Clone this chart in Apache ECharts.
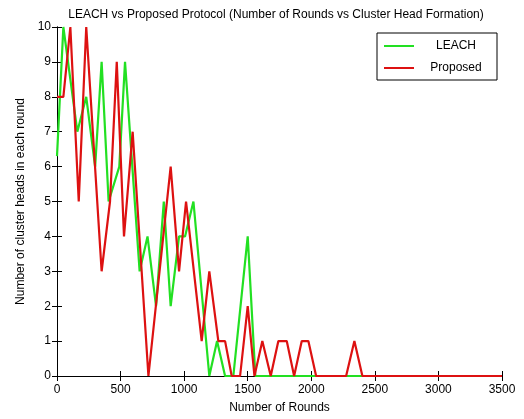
<!DOCTYPE html>
<html>
<head>
<meta charset="utf-8">
<script src="https://cdn.jsdelivr.net/npm/echarts@6/dist/echarts.min.js"></script>
<style>html,body{margin:0;padding:0;background:#fff;}#c{width:524px;height:419px;}</style>
</head>
<body>
<div id="c"></div>
<script>
var leachRounds = [0,50,160,230,300,351,406,490,535,650,712,779,840,894,960,1007,1073,1198,1259,1322,1387,1500,1560,3500];
var leachHeads  = [6.3,10,7,8,6,9,5,6,9,3,4,2,5,2,4,4,5,0,1,0,0,4,0,0];
var propRounds = [0,50,105,171,230,351,417,470,527,595,719,894,960,1015,1138,1198,1269,1322,1374,1440,1500,1553,1615,1681,1741,1807,1865,1925,1977,2038,2274,2339,2402,3500];
var propHeads  = [8,8,10,5,10,3,5,9,4,7,0,6,3,5,1,3,1,1,0,0,2,0,1,0,1,1,0,1,1,0,0,1,0,0];
var xTicks = [0,500,1000,1500,2000,2500,3000,3500];
var yTicks = [0,1,2,3,4,5,6,7,8,9,10];

function pairs(xs, ys){ return xs.map(function(x,i){ return [x, ys[i]]; }); }

var font = 'Liberation Sans, Arial, sans-serif';
var chart = echarts.init(document.getElementById('c'));
var tickStyle = {show:true, inside:true, length:5, lineStyle:{color:'#000', width:1}};
chart.setOption({
  animation:false,
  backgroundColor:'#fff',
  title:{text:'LEACH vs Proposed Protocol (Number of Rounds vs Cluster Head Formation)', left:271, textAlign:'center', top:4,
    textStyle:{fontFamily:font, fontSize:12, fontWeight:'normal', color:'#000'}},
  grid:{left:57, right:22, top:27, bottom:39},
  legend:{right:27, top:33, orient:'vertical', backgroundColor:'#fff', borderColor:'#000', borderWidth:1,
    padding:[6,4,5,7], itemGap:8, itemWidth:30, itemHeight:2,
    icon:'rect',
    formatter:function(n){ return '{a|' + n + '}'; },
    textStyle:{fontFamily:font, fontSize:12, color:'#000', lineHeight:14,
      rich:{a:{fontFamily:font, fontSize:12, color:'#000', width:74, align:'center', lineHeight:14}}},
    data:['LEACH','Proposed']},
  xAxis:[{type:'value', min:0, max:3500, interval:500, position:'bottom',
    name:'Number of Rounds', nameLocation:'middle', nameGap:26,
    nameTextStyle:{fontFamily:font, fontSize:12, color:'#000'},
    axisLine:{show:true, lineStyle:{color:'#000'}}, axisTick:tickStyle,
    axisLabel:{fontFamily:font, fontSize:12, color:'#000', margin:8, formatter:function(v){return xTicks.indexOf(v)>=0?String(v):'';}},
    splitLine:{show:false}},
   {type:'value', min:0, max:3500, interval:500, position:'top',
    axisLine:{show:true, lineStyle:{color:'#000'}}, axisTick:tickStyle, axisLabel:{show:false}, splitLine:{show:false}}],
  yAxis:[{type:'value', min:0, max:10, interval:1, position:'left',
    name:'Number of cluster heads in each round', nameLocation:'middle', nameGap:29,
    nameTextStyle:{fontFamily:font, fontSize:12, color:'#000'},
    axisLine:{show:true, lineStyle:{color:'#000'}}, axisTick:tickStyle,
    axisLabel:{fontFamily:font, fontSize:12, color:'#000', margin:6, formatter:function(v){return yTicks.indexOf(v)>=0?String(v):'';}},
    splitLine:{show:false}},
   {type:'value', min:0, max:10, interval:1, position:'right',
    axisLine:{show:true, lineStyle:{color:'#000'}}, axisTick:tickStyle, axisLabel:{show:false}, splitLine:{show:false}}],
  series:[
    {name:'LEACH', type:'line', data:pairs(leachRounds, leachHeads), symbol:'none', color:'#22e022',
     lineStyle:{width:2.2, color:'#22e022'}},
    {name:'Proposed', type:'line', data:pairs(propRounds, propHeads), symbol:'none', color:'#dd1111',
     lineStyle:{width:2.2, color:'#dd1111'}}
  ]
});
</script>
</body>
</html>
